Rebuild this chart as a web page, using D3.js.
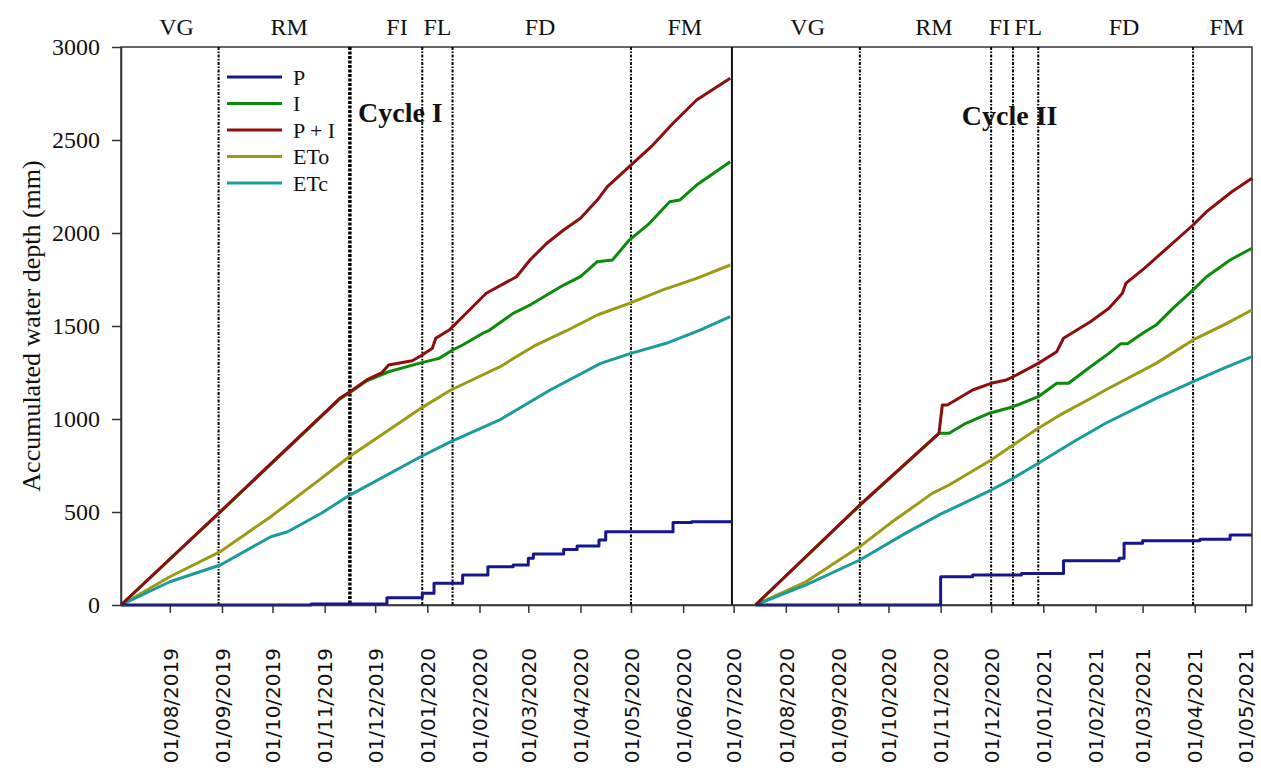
<!DOCTYPE html>
<html>
<head>
<meta charset="utf-8">
<script src="https://cdn.jsdelivr.net/npm/d3@7"></script>
<style>
  body { margin: 0; background: #fff; }
  svg text { font-family: "Liberation Serif", "Times New Roman", serif; fill: #111; }
  .x-axis text { font-family: "DejaVu Sans", Verdana, sans-serif; }
</style>
</head>
<body>
<div id="chart"></div>
<script>
// Séries
const seriesNames = ["P", "I", "P + I", "ETo", "ETc"];
const seriesColors = ["#16168f", "#0b8a0b", "#8e0e0e", "#9a9a14", "#1b9b9b"];

// Cycle I (2019-2020) : [date, mm cumulés]
const p1 = [["2019-07-03", 0], ["2019-10-24", 5], ["2019-12-08", 39], ["2019-12-29", 63],
  ["2020-01-05", 117], ["2020-01-22", 161], ["2020-02-06", 206], ["2020-02-21", 215],
  ["2020-03-01", 251], ["2020-03-04", 274], ["2020-03-22", 299], ["2020-03-30", 317],
  ["2020-04-12", 349], ["2020-04-16", 394], ["2020-05-26", 443], ["2020-06-06", 448],
  ["2020-06-30", 448]];
const i1 = [["2019-07-03", 0], ["2019-08-31", 500], ["2019-11-10", 1108], ["2019-11-16", 1143],
  ["2019-11-26", 1205], ["2019-12-09", 1254], ["2019-12-27", 1299], ["2020-01-08", 1326],
  ["2020-01-16", 1371], ["2020-01-22", 1398], ["2020-02-03", 1461], ["2020-02-07", 1478],
  ["2020-02-21", 1568], ["2020-03-02", 1613], ["2020-03-12", 1667], ["2020-03-22", 1720],
  ["2020-04-01", 1765], ["2020-04-11", 1846], ["2020-04-20", 1855], ["2020-04-30", 1962],
  ["2020-05-12", 2052], ["2020-05-24", 2168], ["2020-05-30", 2177], ["2020-06-09", 2258],
  ["2020-06-29", 2383]];
const pi1 = [["2019-07-03", 0], ["2019-08-31", 502], ["2019-11-10", 1111], ["2019-11-16", 1147],
  ["2019-11-26", 1210], ["2019-12-05", 1249], ["2019-12-09", 1290], ["2019-12-23", 1313],
  ["2019-12-28", 1339], ["2020-01-04", 1380], ["2020-01-06", 1434], ["2020-01-14", 1478],
  ["2020-01-22", 1550], ["2020-02-05", 1676], ["2020-02-23", 1765], ["2020-03-02", 1855],
  ["2020-03-12", 1945], ["2020-03-22", 2016], ["2020-04-01", 2079], ["2020-04-11", 2177],
  ["2020-04-17", 2249], ["2020-04-30", 2357], ["2020-05-14", 2473], ["2020-05-26", 2590],
  ["2020-06-09", 2715], ["2020-06-29", 2832]];
const eto1 = [["2019-07-03", 0], ["2019-08-01", 152], ["2019-08-31", 287], ["2019-09-30", 475],
  ["2019-10-30", 681], ["2019-11-16", 800], ["2019-12-28", 1057], ["2020-01-15", 1156],
  ["2020-02-13", 1280], ["2020-03-04", 1390], ["2020-03-24", 1476], ["2020-04-11", 1559],
  ["2020-04-30", 1622], ["2020-05-20", 1694], ["2020-06-09", 1756], ["2020-06-29", 1828]];
const etc1 = [["2019-07-03", 0], ["2019-08-01", 125], ["2019-08-31", 215], ["2019-09-30", 367],
  ["2019-10-10", 394], ["2019-10-30", 493], ["2019-11-16", 591], ["2019-12-28", 797],
  ["2020-01-15", 878], ["2020-02-13", 995], ["2020-03-14", 1156], ["2020-04-13", 1299],
  ["2020-05-01", 1353], ["2020-05-22", 1407], ["2020-06-11", 1478], ["2020-06-29", 1550]];

// Cycle II (2020-2021)
const p2 = [["2020-07-14", 0], ["2020-11-01", 152], ["2020-11-20", 161], ["2020-12-19", 170],
  ["2021-01-13", 238], ["2021-02-15", 251], ["2021-02-18", 332], ["2021-03-01", 346],
  ["2021-04-04", 353], ["2021-04-22", 376], ["2021-05-05", 376]];
const i2 = [["2020-07-14", 0], ["2020-09-14", 536], ["2020-10-31", 923], ["2020-11-06", 923],
  ["2020-11-16", 977], ["2020-11-30", 1031], ["2020-12-14", 1066], ["2020-12-29", 1120],
  ["2021-01-09", 1192], ["2021-01-16", 1192], ["2021-01-29", 1281], ["2021-02-09", 1353],
  ["2021-02-16", 1405], ["2021-02-20", 1405], ["2021-03-01", 1461], ["2021-03-09", 1505],
  ["2021-03-19", 1595], ["2021-03-31", 1694], ["2021-04-08", 1765], ["2021-04-22", 1855],
  ["2021-05-05", 1918]];
const pi2 = [["2020-07-14", 0], ["2020-09-14", 538], ["2020-10-31", 923], ["2020-11-02", 1075],
  ["2020-11-05", 1075], ["2020-11-20", 1156], ["2020-12-01", 1192], ["2020-12-10", 1210],
  ["2020-12-14", 1227], ["2020-12-29", 1299], ["2021-01-09", 1362], ["2021-01-13", 1434],
  ["2021-01-29", 1523], ["2021-02-09", 1595], ["2021-02-17", 1676], ["2021-02-19", 1729],
  ["2021-03-02", 1810], ["2021-03-11", 1882], ["2021-03-31", 2043], ["2021-04-08", 2115],
  ["2021-04-23", 2222], ["2021-05-05", 2294]];
const eto2 = [["2020-07-14", 0], ["2020-08-13", 125], ["2020-09-14", 314], ["2020-10-02", 439],
  ["2020-10-27", 600], ["2020-11-06", 645], ["2020-12-01", 780], ["2020-12-14", 860],
  ["2020-12-29", 950], ["2021-01-11", 1022], ["2021-01-29", 1110], ["2021-02-07", 1156],
  ["2021-03-09", 1299], ["2021-03-31", 1425], ["2021-04-18", 1505], ["2021-05-05", 1586]];
const etc2 = [["2020-07-14", 0], ["2020-08-13", 108], ["2020-09-14", 242], ["2020-10-11", 385],
  ["2020-10-31", 484], ["2020-12-01", 618], ["2020-12-14", 681], ["2020-12-29", 762],
  ["2021-01-19", 878], ["2021-02-07", 977], ["2021-03-09", 1111], ["2021-03-31", 1201],
  ["2021-04-18", 1272], ["2021-05-05", 1335]];

// Phases phénologiques
const phaseBounds = ["2019-08-30", "2019-11-16", "2019-12-29", "2020-01-16", "2020-05-01",
  "2020-09-14", "2020-12-01", "2020-12-14", "2020-12-29", "2021-03-31"];
const phaseNames = ["VG", "RM", "FI", "FL", "FD", "FM", "VG", "RM", "FI", "FL", "FD", "FM"];
const phaseLabelDates = ["2019-08-05", "2019-10-11", "2019-12-14", "2020-01-07", "2020-03-08",
  "2020-06-02", "2020-08-14", "2020-10-28", "2020-12-06", "2020-12-23", "2021-02-18", "2021-04-20"];
const cycleDivider = "2020-06-30";
const cycleNames = ["Cycle I", "Cycle II"];
const cycleLabelDates = ["2019-12-16", "2020-12-12"];
const cycleLabelValues = [2597, 2581];

// Axes
const xDomain = ["2019-07-03", "2021-05-05"];
const xTickLabels = ["01/08/2019", "01/09/2019", "01/10/2019", "01/11/2019", "01/12/2019",
  "01/01/2020", "01/02/2020", "01/03/2020", "01/04/2020", "01/05/2020", "01/06/2020",
  "01/07/2020", "01/08/2020", "01/09/2020", "01/10/2020", "01/11/2020", "01/12/2020",
  "01/01/2021", "01/02/2021", "01/03/2021", "01/04/2021", "01/05/2021"];
const yTicks = [0, 500, 1000, 1500, 2000, 2500, 3000];
const yTitle = "Accumulated water depth (mm)";

const CONFIG = { width: 1261, height: 771, left: 121, right: 1252, top: 47, bottom: 605 };

const parseDate = d3.timeParse("%Y-%m-%d");
const parseTick = d3.timeParse("%d/%m/%Y");

const svg = d3.select("#chart").append("svg")
  .attr("width", CONFIG.width)
  .attr("height", CONFIG.height);

const x = d3.scaleTime()
  .domain(xDomain.map(parseDate))
  .range([CONFIG.left, CONFIG.right]);
const y = d3.scaleLinear()
  .domain([0, 3000])
  .range([CONFIG.bottom, CONFIG.top]);

// Cadre
svg.append("rect")
  .attr("x", CONFIG.left).attr("y", CONFIG.top)
  .attr("width", CONFIG.right - CONFIG.left)
  .attr("height", CONFIG.bottom - CONFIG.top)
  .attr("fill", "none").attr("stroke", "#333").attr("stroke-width", 1.5);

// Limites des phases (pointillés)
svg.selectAll(".phase-line")
  .data(phaseBounds)
  .enter().append("line")
  .attr("class", "phase-line")
  .attr("x1", d => x(parseDate(d))).attr("x2", d => x(parseDate(d)))
  .attr("y1", CONFIG.top).attr("y2", CONFIG.bottom)
  .attr("stroke", "#000")
  .attr("stroke-width", (d, i) => i === 1 ? 3.5 : 2)
  .attr("stroke-dasharray", (d, i) => i === 1 ? "3,1.5" : "3,1.5,1.5,1.5");

// Séparation des cycles
svg.append("line")
  .attr("x1", x(parseDate(cycleDivider))).attr("x2", x(parseDate(cycleDivider)))
  .attr("y1", CONFIG.top).attr("y2", CONFIG.bottom)
  .attr("stroke", "#111").attr("stroke-width", 2);

// Courbes
const line = d3.line()
  .x(d => x(parseDate(d[0])))
  .y(d => y(d[1]));
const stepLine = d3.line()
  .x(d => x(parseDate(d[0])))
  .y(d => y(d[1]))
  .curve(d3.curveStepAfter);

const cycles = [[p1, i1, pi1, eto1, etc1], [p2, i2, pi2, eto2, etc2]];
const drawOrder = [3, 4, 1, 2, 0];

cycles.forEach(series => {
  drawOrder.forEach(k => {
    svg.append("path")
      .datum(series[k])
      .attr("fill", "none")
      .attr("stroke", seriesColors[k])
      .attr("stroke-width", 3)
      .attr("stroke-linejoin", "round")
      .attr("d", k === 0 ? stepLine : line);
  });
});

// Axe Y
const yAxis = svg.append("g")
  .attr("transform", `translate(${CONFIG.left},0)`)
  .call(d3.axisLeft(y).tickValues(yTicks).tickFormat(d3.format("d"))
    .tickSize(9).tickSizeOuter(0).tickPadding(12));
yAxis.selectAll("text").attr("font-size", 24).style("font-family", "'Liberation Serif', serif");

// Axe X
const xAxis = svg.append("g")
  .attr("class", "x-axis")
  .attr("transform", `translate(0,${CONFIG.bottom})`)
  .call(d3.axisBottom(x)
    .tickValues(xTickLabels.map(parseTick))
    .tickFormat((d, i) => xTickLabels[i])
    .tickSize(8).tickSizeOuter(0));
xAxis.selectAll("text")
  .attr("font-size", 20)
  .attr("transform", "rotate(-90)")
  .attr("text-anchor", "end")
  .attr("x", -43)
  .attr("y", 0)
  .attr("dy", "0.36em");

[yAxis, xAxis].forEach(g => {
  g.select(".domain").attr("stroke", "#333").attr("stroke-width", 1.5);
  g.selectAll(".tick line").attr("stroke", "#333").attr("stroke-width", 1.5);
});

// Titre de l'axe Y
svg.append("text")
  .attr("transform", `translate(31,${(CONFIG.top + CONFIG.bottom) / 2}) rotate(-90)`)
  .attr("text-anchor", "middle")
  .attr("dy", "0.35em")
  .attr("font-size", 26)
  .text(yTitle);

// Noms des phases
svg.selectAll(".phase-label")
  .data(phaseNames)
  .enter().append("text")
  .attr("class", "phase-label")
  .attr("x", (d, i) => x(parseDate(phaseLabelDates[i])))
  .attr("y", 35)
  .attr("text-anchor", "middle")
  .attr("font-size", 24)
  .text(d => d);

// Étiquettes des cycles
svg.selectAll(".cycle-label")
  .data(cycleNames)
  .enter().append("text")
  .attr("class", "cycle-label")
  .attr("x", (d, i) => x(parseDate(cycleLabelDates[i])))
  .attr("y", (d, i) => y(cycleLabelValues[i]))
  .attr("text-anchor", "middle")
  .attr("font-size", 28)
  .attr("font-weight", "bold")
  .text(d => d);

// Légende
const legend = svg.append("g").attr("transform", "translate(227,77)");
seriesNames.forEach((name, i) => {
  const row = legend.append("g").attr("transform", `translate(0,${i * 26.5})`);
  row.append("line")
    .attr("x1", 0).attr("x2", 55)
    .attr("stroke", seriesColors[i]).attr("stroke-width", 3);
  row.append("text")
    .attr("x", 66).attr("dy", "0.35em")
    .attr("font-size", 22)
    .text(name);
});
</script>
</body>
</html>
